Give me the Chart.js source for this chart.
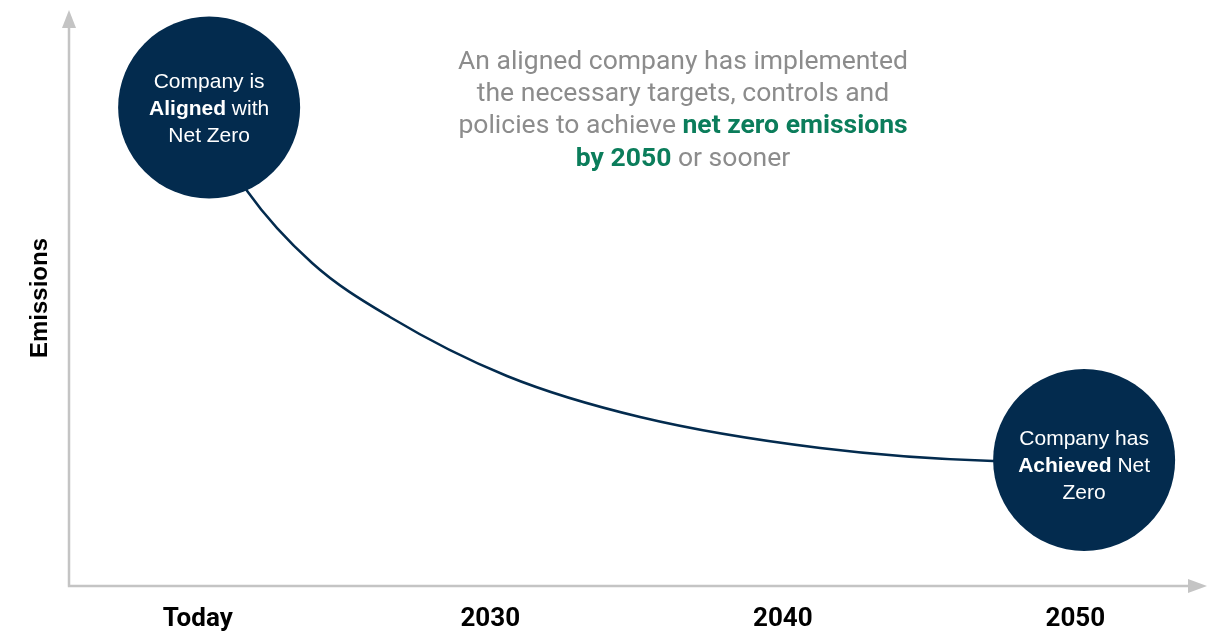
<!DOCTYPE html>
<html>
<head>
<meta charset="utf-8">
<title>Net Zero pathway</title>
<script src="https://cdn.jsdelivr.net/npm/chart.js@4.4.0/dist/chart.umd.min.js"></script>
<style>
  html, body { margin: 0; padding: 0; background: #fff; }
  #wrap { width: 1217px; height: 631px; position: relative; }
</style>
</head>
<body>
<div id="wrap"><canvas id="pathChart"></canvas></div>
<script>
// x axis ticks (years) and what gets printed under them
const tickYears = [2020, 2030, 2040, 2050];
const tickLabels = ['Today', '2030', '2040', '2050'];

// emissions curve, year vs. relative emissions (0-100)
const curveYears = [2020.93, 2021.69, 2023.91, 2026.57, 2030.57, 2035.12, 2041.28, 2047.19, 2050.3];
const curveValues = [75.17, 68.58, 56.08, 46.7, 36.46, 29.34, 23.96, 21.7, 21.53];

// the two milestones
const milestoneYears = [2020.39, 2050.3];
const milestoneValues = [83.07, 21.88];
const milestoneText = [
  [[['Company is', false]], [['Aligned', true], [' with', false]], [['Net Zero', false]]],
  [[['Company has', false]], [['Achieved', true], [' Net', false]], [['Zero', false]]]
];

const noteLines = [
  [['An aligned company has implemented', false]],
  [['the necessary targets, controls and', false]],
  [['policies to achieve ', false], ['net zero emissions', true]],
  [['by 2050', true], [' or sooner', false]]
];

const NAVY = '#032b4e';
const AXIS_GREY = '#c4c4c4';

// draws a line of text made of plain / bold runs, centred on cx
function drawRuns(ctx, runs, cx, cy, size, family, plainColor, boldColor) {
  let total = 0;
  const widths = runs.map(([txt, bold]) => {
    ctx.font = (bold ? 'bold ' : '') + size + 'px ' + family;
    const w = ctx.measureText(txt).width;
    total += w;
    return w;
  });
  let x = cx - total / 2;
  ctx.textAlign = 'left';
  ctx.textBaseline = 'middle';
  runs.forEach(([txt, bold], i) => {
    ctx.font = (bold ? 'bold ' : '') + size + 'px ' + family;
    ctx.fillStyle = bold ? boldColor : plainColor;
    ctx.fillText(txt, x, cy);
    x += widths[i];
  });
}

const axisArrows = {
  id: 'axisArrows',
  beforeDatasetsDraw(chart) {
    const {ctx, chartArea} = chart;
    const left = chartArea.left, bottom = chartArea.bottom;
    ctx.save();
    ctx.strokeStyle = AXIS_GREY;
    ctx.fillStyle = AXIS_GREY;
    ctx.lineWidth = 2.5;
    ctx.beginPath();
    ctx.moveTo(left, bottom);
    ctx.lineTo(left, 27);
    ctx.moveTo(left - 1.2, bottom);
    ctx.lineTo(1189, bottom);
    ctx.stroke();
    // arrow heads
    ctx.beginPath();
    ctx.moveTo(left, 10);
    ctx.lineTo(left - 7, 28);
    ctx.lineTo(left + 7, 28);
    ctx.closePath();
    ctx.fill();
    ctx.beginPath();
    ctx.moveTo(1207, bottom);
    ctx.lineTo(1188, bottom - 7);
    ctx.lineTo(1188, bottom + 7);
    ctx.closePath();
    ctx.fill();
    ctx.restore();
  }
};

const labelsPlugin = {
  id: 'labelsPlugin',
  afterDatasetsDraw(chart) {
    const {ctx} = chart;
    ctx.save();
    const meta = chart.getDatasetMeta(0);
    meta.data.forEach((pt, i) => {
      const lines = milestoneText[i];
      const shift = i === 0 ? 2 : 6;
      lines.forEach((runs, j) => {
        drawRuns(ctx, runs, pt.x, pt.y + shift + (j - 1) * 27, 21, '"Liberation Sans", Arial, sans-serif', '#fff', '#fff');
      });
    });
    noteLines.forEach((runs, j) => {
      drawRuns(ctx, runs, 683, 62 + j * 32.3, 26.5, 'Roboto, sans-serif', '#8c8c8c', '#0b7d5b');
    });
    ctx.restore();
  }
};

new Chart(document.getElementById('pathChart'), {
  type: 'scatter',
  data: {
    datasets: [{
      label: 'Milestones',
      data: milestoneYears.map((x, i) => ({x: x, y: milestoneValues[i]})),
      backgroundColor: NAVY,
      borderWidth: 0,
      pointRadius: 91,
      pointHoverRadius: 91,
      order: 0,
      clip: false
    }, {
      type: 'line',
      label: 'Emissions',
      data: curveYears.map((x, i) => ({x: x, y: curveValues[i]})),
      borderColor: NAVY,
      borderWidth: 2.5,
      pointRadius: 0,
      fill: false,
      cubicInterpolationMode: 'monotone',
      order: 1,
      clip: false
    }]
  },
  options: {
    responsive: true,
    maintainAspectRatio: false,
    animation: false,
    events: [],
    layout: { autoPadding: false, padding: { top: 10, right: 10, left: 0, bottom: 0 } },
    plugins: { legend: { display: false }, tooltip: { enabled: false } },
    scales: {
      x: {
        type: 'linear',
        min: 2015.6,
        max: 2054.5,
        grid: { display: false, drawTicks: false },
        border: { display: false },
        afterBuildTicks(scale) {
          scale.ticks = tickYears.map(v => ({value: v}));
        },
        afterFit(scale) { scale.height = 45; },
        ticks: {
          padding: 18,
          color: '#000',
          maxRotation: 0,
          autoSkip: false,
          font: { family: 'Roboto', size: 26, weight: 'bold' },
          callback(value) {
            const i = tickYears.indexOf(value);
            return i >= 0 ? tickLabels[i] : '';
          }
        }
      },
      y: {
        min: 0,
        max: 100,
        grid: { display: false, drawTicks: false },
        border: { display: false },
        ticks: { display: false },
        afterFit(scale) { scale.width = 69; },
        title: {
          display: true,
          text: 'Emissions',
          color: '#000',
          padding: { top: 26, bottom: 0 },
          font: { family: '"Liberation Sans", Arial, sans-serif', size: 24, weight: 'bold' }
        }
      }
    }
  },
  plugins: [axisArrows, labelsPlugin]
});
</script>
</body>
</html>
